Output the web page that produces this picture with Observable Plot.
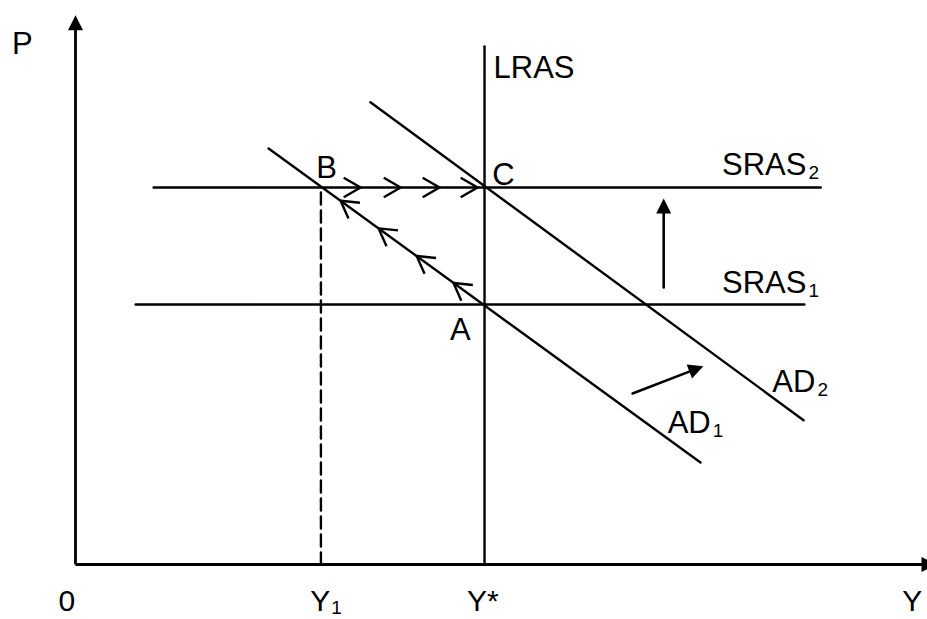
<!DOCTYPE html>
<html><head><meta charset="utf-8">
<script src="https://cdn.jsdelivr.net/npm/d3@7"></script>
<script src="https://cdn.jsdelivr.net/npm/@observablehq/plot@0.6"></script>
<style>html,body{margin:0;padding:0;background:#fff;overflow:hidden}</style>
</head><body><div id="chart"></div>
<script>
// ---- Data (Y = real output, P = price level) ----
const xDomain = [0, 208.3];
const yDomain = [0, 84.6];

const axisLines = [
  {x1: 0, y1: 0, x2: 207, y2: 0},
  {x1: 0, y1: 0, x2: 0, y2: 82.3}
];
const xAxisHead = [{Y: 210.5, P: 0}];
const yAxisHead = [{Y: 0, P: 84.5}];

const lras  = [{Y: 100, P: 0}, {Y: 100, P: 79.7}];
const sras1 = [{Y: 14.7, P: 40}, {Y: 178.2, P: 40}];
const sras2 = [{Y: 19.1, P: 58}, {Y: 182.2, P: 58}];
const ad1   = [{Y: 47.2, P: 64}, {Y: 152.8, P: 15.7}];
const ad2   = [{Y: 72.1, P: 71.1}, {Y: 178.0, P: 22.2}];
const y1Guide = [{Y: 60, P: 0}, {Y: 60, P: 58}];

const srasPathMarks = [{Y: 69.7, P: 58}, {Y: 79.5, P: 58}, {Y: 89.0, P: 58}, {Y: 98.3, P: 58}];
const adPathMarks = [{Y: 64.8, P: 55.95}, {Y: 74.1, P: 51.7}, {Y: 83.4, P: 47.45}, {Y: 92.4, P: 43.3}];

const srasShift = [{x1: 143.8, y1: 42.6, x2: 143.8, y2: 56.3}];
const adShift   = [{x1: 136.2, y1: 26.3, x2: 153.5, y2: 30.5}];

const curveLabels = [
  {name: "SRAS", sub: "2", Y: 178.7, P: 59.9},
  {name: "SRAS", sub: "1", Y: 178.7, P: 41.8},
  {name: "AD",   sub: "2", Y: 180.9, P: 26.6},
  {name: "AD",   sub: "1", Y: 155.3, P: 20.2}
];
const startLabels = [
  {text: "LRAS", Y: 102.2, P: 74.8},
  {text: "C", Y: 101.9, P: 58.3}
];
const middleLabels = [
  {text: "A", Y: 94.1, P: 34.5},
  {text: "B", Y: 61.4, P: 59.5},
  {text: "P", Y: -13.0, P: 78.6}
];
const axisTickLabels = [
  {text: "0", Y: -2.1, P: -7.2},
  {text: "Y*", Y: 99.6, P: -7.2},
  {text: "Y", Y: 204.6, P: -7.2}
];
const axisSubLabels = [{name: "Y", sub: "1", Y: 62.3, P: -7.2}];

// ---- Shapes ----
const chevron = {draw(ctx, l) {
  const a = Math.PI / 6;
  ctx.moveTo(-l * Math.sin(a), l * Math.cos(a));
  ctx.lineTo(0, 0);
  ctx.lineTo(l * Math.sin(a), l * Math.cos(a));
}};
const head = {draw(ctx, l) {
  ctx.moveTo(0, 0);
  ctx.lineTo(-l * 0.5, l);
  ctx.lineTo(l * 0.5, l);
  ctx.closePath();
}};

const font = "Liberation Sans, Arial, Helvetica, sans-serif";
const fs = 31, subFs = 19, tickFs = 30;
const lw = 2.4;

const chart = Plot.plot({
  width: 927,
  height: 619,
  marginLeft: 75,
  marginRight: 0,
  marginTop: 14,
  marginBottom: 55,
  style: {background: "#fff", overflow: "hidden"},
  x: {domain: xDomain, axis: null},
  y: {domain: yDomain, axis: null},
  marks: [
    Plot.link(axisLines, {x1: "x1", y1: "y1", x2: "x2", y2: "y2", stroke: "black", strokeWidth: 2.8}),
    Plot.vector(xAxisHead, {x: "Y", y: "P", length: 15, rotate: 90, anchor: "start", shape: head, fill: "black", stroke: "none"}),
    Plot.vector(yAxisHead, {x: "Y", y: "P", length: 15, rotate: 0, anchor: "start", shape: head, fill: "black", stroke: "none"}),
    Plot.line(y1Guide, {x: "Y", y: "P", stroke: "black", strokeWidth: lw, strokeDasharray: "12,6"}),
    Plot.line(lras, {x: "Y", y: "P", stroke: "black", strokeWidth: lw}),
    Plot.line(sras1, {x: "Y", y: "P", stroke: "black", strokeWidth: lw}),
    Plot.line(sras2, {x: "Y", y: "P", stroke: "black", strokeWidth: lw}),
    Plot.line(ad1, {x: "Y", y: "P", stroke: "black", strokeWidth: lw}),
    Plot.line(ad2, {x: "Y", y: "P", stroke: "black", strokeWidth: lw}),
    Plot.vector(srasPathMarks, {x: "Y", y: "P", length: 19.5, rotate: 90, anchor: "start", shape: chevron, stroke: "black", strokeWidth: lw, strokeLinecap: "butt", strokeLinejoin: "miter"}),
    Plot.vector(adPathMarks, {x: "Y", y: "P", length: 19.5, rotate: -54, anchor: "start", shape: chevron, stroke: "black", strokeWidth: lw, strokeLinecap: "butt", strokeLinejoin: "miter"}),
    Plot.arrow(srasShift, {x1: "x1", y1: "y1", x2: "x2", y2: "y2", headLength: 0, insetEnd: 13, stroke: "black", strokeWidth: 2.6}),
    Plot.vector(srasShift, {x: "x2", y: "y2", length: 15, rotate: 0, anchor: "start", shape: head, fill: "black", stroke: "none"}),
    Plot.arrow(adShift, {x1: "x1", y1: "y1", x2: "x2", y2: "y2", headLength: 0, insetEnd: 13, stroke: "black", strokeWidth: 2.6}),
    Plot.vector(adShift, {x: "x2", y: "y2", length: 15, rotate: 69, anchor: "start", shape: head, fill: "black", stroke: "none"}),
    Plot.text(curveLabels, {x: "Y", y: "P", text: "name", textAnchor: "end", lineAnchor: "bottom", fontFamily: font, fontSize: fs, fill: "black"}),
    Plot.text(curveLabels, {x: "Y", y: "P", text: "sub", textAnchor: "start", lineAnchor: "bottom", dx: 2, dy: 4, fontFamily: font, fontSize: subFs, fill: "black"}),
    Plot.text(startLabels, {x: "Y", y: "P", text: "text", textAnchor: "start", lineAnchor: "bottom", fontFamily: font, fontSize: fs, fill: "black"}),
    Plot.text(middleLabels, {x: "Y", y: "P", text: "text", textAnchor: "middle", lineAnchor: "bottom", fontFamily: font, fontSize: fs, fill: "black"}),
    Plot.text(axisTickLabels, {x: "Y", y: "P", text: "text", textAnchor: "middle", lineAnchor: "bottom", fontFamily: font, fontSize: tickFs, fill: "black"}),
    Plot.text(axisSubLabels, {x: "Y", y: "P", text: "name", textAnchor: "end", lineAnchor: "bottom", fontFamily: font, fontSize: tickFs, fill: "black"}),
    Plot.text(axisSubLabels, {x: "Y", y: "P", text: "sub", textAnchor: "start", lineAnchor: "bottom", dx: 1, dy: 3, fontFamily: font, fontSize: subFs, fill: "black"})
  ]
});
document.getElementById("chart").appendChild(chart);
</script>
</body></html>
